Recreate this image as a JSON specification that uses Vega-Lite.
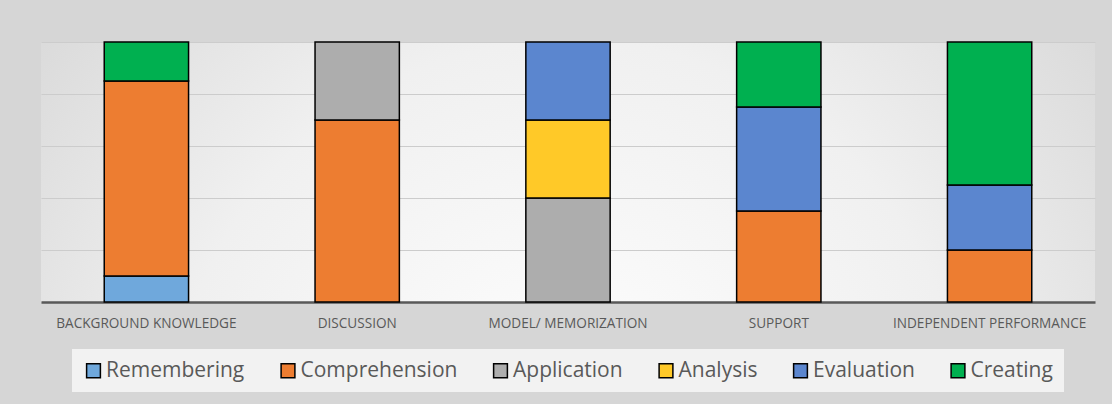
{
  "$schema": "https://vega.github.io/schema/vega-lite/v6.json",
  "autosize": {"type": "fit", "contains": "padding"},
  "width": 1112,
  "height": 404,
  "padding": {"left": 41, "top": 41, "right": 17, "bottom": 12},
  "background": "#d6d6d6",
  "config": {
    "view": {
      "stroke": null,
      "fill": {"gradient": "radial", "x1": 0.5, "y1": 0.75, "x2": 0.5, "y2": 0.75, "r1": 0, "r2": 0.75,
        "stops": [{"offset": 0, "color": "#ffffff"}, {"offset": 0.5, "color": "#f0f0f0"}, {"offset": 1, "color": "#d0d0d0"}]}
    },
    "legend": {"layout": {"bottom": {"anchor": "middle"}}},
    "font": "Lato"
  },
  "data": {
    "values": [
      {"stage": "BACKGROUND KNOWLEDGE", "level": "Remembering", "rank": 1, "value": 10},
      {"stage": "BACKGROUND KNOWLEDGE", "level": "Comprehension", "rank": 2, "value": 75},
      {"stage": "BACKGROUND KNOWLEDGE", "level": "Creating", "rank": 6, "value": 15},
      {"stage": "DISCUSSION", "level": "Comprehension", "rank": 2, "value": 70},
      {"stage": "DISCUSSION", "level": "Application", "rank": 3, "value": 30},
      {"stage": "MODEL/ MEMORIZATION", "level": "Application", "rank": 3, "value": 40},
      {"stage": "MODEL/ MEMORIZATION", "level": "Analysis", "rank": 4, "value": 30},
      {"stage": "MODEL/ MEMORIZATION", "level": "Evaluation", "rank": 5, "value": 30},
      {"stage": "SUPPORT", "level": "Comprehension", "rank": 2, "value": 35},
      {"stage": "SUPPORT", "level": "Evaluation", "rank": 5, "value": 40},
      {"stage": "SUPPORT", "level": "Creating", "rank": 6, "value": 25},
      {"stage": "INDEPENDENT PERFORMANCE", "level": "Comprehension", "rank": 2, "value": 20},
      {"stage": "INDEPENDENT PERFORMANCE", "level": "Evaluation", "rank": 5, "value": 25},
      {"stage": "INDEPENDENT PERFORMANCE", "level": "Creating", "rank": 6, "value": 55}
    ]
  },
  "mark": {"type": "bar", "stroke": "#000000", "strokeWidth": 1.5},
  "encoding": {
    "x": {
      "field": "stage", "type": "nominal", "sort": null, "title": null,
      "scale": {"paddingInner": 0.6, "paddingOuter": 0.3},
      "axis": {
        "labelAngle": 0, "labelFontSize": 13.6, "labelColor": "#595959", "labelPadding": 14,
        "labelLimit": 400, "labelOverlap": false,
        "ticks": false, "domainColor": "#595959", "domainWidth": 2.5, "labelFont": "Open Sans"
      }
    },
    "y": {
      "field": "value", "type": "quantitative", "stack": "zero", "title": null,
      "scale": {"domain": [0, 100], "nice": false},
      "axis": {
        "values": [20, 40, 60, 80, 100], "labels": false, "ticks": false, "domain": false,
        "gridColor": "#cccccc", "gridWidth": 1.2
      }
    },
    "color": {
      "field": "level", "type": "nominal", "title": null,
      "scale": {
        "domain": ["Remembering", "Comprehension", "Application", "Analysis", "Evaluation", "Creating"],
        "range": ["#6FA8DC", "#ED7D31", "#ADADAD", "#FFC928", "#5B86CF", "#00B050"]
      },
      "legend": {
        "orient": "bottom", "direction": "horizontal", "symbolType": "square", "symbolSize": 190,
        "symbolStrokeColor": "#000000", "symbolStrokeWidth": 1.5, "symbolOpacity": 1,
        "labelFontSize": 21, "labelColor": "#595959", "labelFont": "Open Sans",
        "columnPadding": 32.5, "symbolOffset": 0, "labelOffset": 2,
        "fillColor": "#f2f2f2", "padding": 11, "offset": 19
      }
    },
    "order": {"field": "rank", "type": "quantitative"}
  }
}
